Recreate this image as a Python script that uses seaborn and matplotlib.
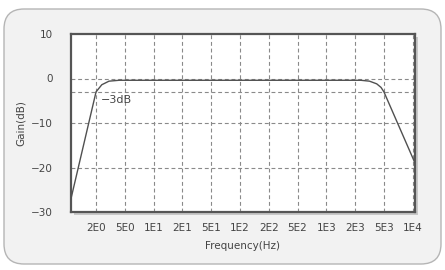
import matplotlib
matplotlib.use("Agg")
import matplotlib.pyplot as plt
from matplotlib.patches import FancyBboxPatch, Rectangle
import seaborn as sns
import pandas as pd

# Data (x in tick-slot units: 0 = 2E0, 1 = 5E0, ... 11 = 1E4)
tick_labels = ["2E0", "5E0", "1E1", "2E1", "5E1", "1E2", "2E2", "5E2", "1E3", "2E3", "5E3", "1E4"]
slot_pos = [-0.87, 0.0, 0.2, 0.45, 0.8, 1.2, 9.2, 9.5, 9.75, 9.9, 10.0, 11.08]
gain_db = [-27.0, -3.0, -1.4, -0.6, -0.4, -0.4, -0.4, -0.6, -1.2, -2.0, -3.0, -19.0]
y_ticks = [10, 0, -10, -20, -30]

df = pd.DataFrame({"pos": slot_pos, "gain": gain_db})

sns.set_theme(style="white")
plt.rcParams["font.family"] = ["DejaVu Sans"]

fig = plt.figure(figsize=(4.45, 2.70), dpi=100)
fig.patch.set_facecolor("white")
bg = FancyBboxPatch((4 / 445, 1 - 264 / 270), 437 / 445, 255 / 270,
                    boxstyle="round,pad=0,rounding_size=0.045",
                    transform=fig.transFigure, facecolor="#f2f2f2",
                    edgecolor="#b5b5b5", linewidth=1.0, mutation_aspect=445 / 270,
                    zorder=-2)
fig.patches.append(bg)

l, r, b, t = 71 / 445, 415 / 445, 1 - 212 / 270, 1 - 34 / 270
# shadow
sh = Rectangle((l + 3 / 445, b - 3 / 270), r - l, t - b, transform=fig.transFigure,
               facecolor="#c8c8c8", edgecolor="none", zorder=-1)
fig.patches.append(sh)

ax = fig.add_axes([l, b, r - l, t - b])
ax.set_zorder(1)
ax.set_facecolor("white")

grid_kw = dict(color="#8a8a8a", linestyle=(0, (3.5, 2.5)), linewidth=0.8, zorder=1)
for i in range(len(tick_labels)):
    ax.axvline(i, **grid_kw)
for yv in [0, -10, -20, -3]:
    ax.axhline(yv, **grid_kw)

sns.lineplot(data=df, x="pos", y="gain", ax=ax, color="#505050", linewidth=1.0,
             sort=False, zorder=3)

ax.set_xlim(-0.87, 11.08)
ax.set_ylim(-30, 10)
ax.set_xticks(range(len(tick_labels)))
ax.set_xticklabels(tick_labels)
ax.set_yticks(y_ticks)
ax.set_yticklabels(["10", "0", "\u221210", "\u221220", "\u221230"])
ax.tick_params(axis="both", labelsize=7.5, colors="#444444")
ax.tick_params(axis="y", length=10, width=0.8, color="#888888", pad=3)
ax.tick_params(axis="x", length=4, width=0.8, color="#888888", pad=4)
ax.set_xlabel("Frequency(Hz)", fontsize=7.5, color="#444444", labelpad=6)
ax.set_ylabel("Gain(dB)", fontsize=7.5, color="#444444", labelpad=4)
ax.text(0.15, -3.8, "\u22123dB", fontsize=8, color="#444444", va="top", ha="left")

for s in ax.spines.values():
    s.set_visible(True)
    s.set_color("#555555")
    s.set_linewidth(1.6)

fig.savefig("out.png", dpi=100)
